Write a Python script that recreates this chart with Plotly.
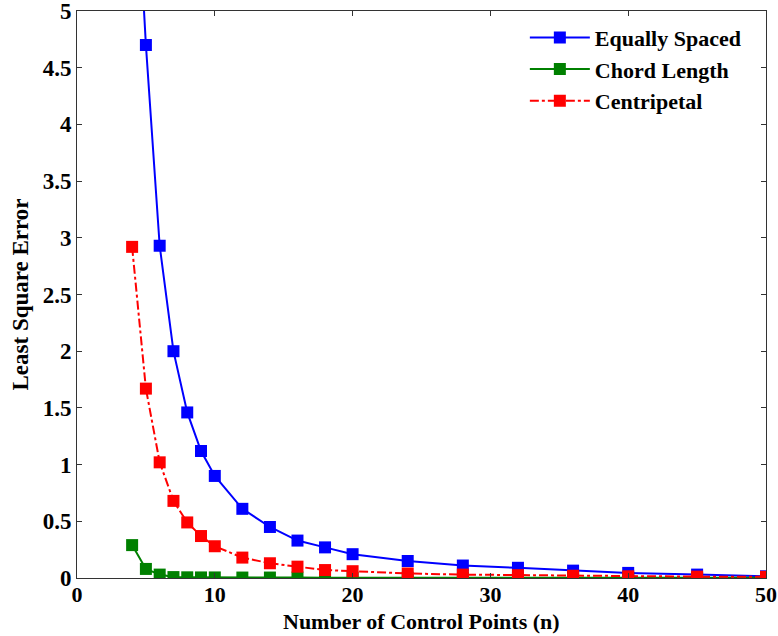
import plotly.graph_objects as go

n_points = [4, 5, 6, 7, 8, 9, 10, 12, 14, 16, 18, 20, 24, 28, 32, 36, 40, 45, 50]
equally_spaced = [6.9, 4.70, 2.93, 2.00, 1.46, 1.12, 0.90, 0.61, 0.45, 0.33, 0.27, 0.21, 0.15, 0.11, 0.09, 0.065, 0.045, 0.03, 0.015]
chord_length = [0.29, 0.08, 0.03, 0.008, 0.006, 0.005, 0.005, 0.004, 0.004, 0.004, 0.003, 0.003, 0.003, 0.003, 0.003, 0.003, 0.002, 0.002, 0.002]
centripetal = [2.92, 1.67, 1.02, 0.68, 0.49, 0.37, 0.28, 0.18, 0.13, 0.10, 0.07, 0.06, 0.04, 0.03, 0.025, 0.02, 0.015, 0.012, 0.01]

x_ticks = [0, 10, 20, 30, 40, 50]
x_tick_labels = ["0", "10", "20", "30", "40", "50"]
y_ticks = [0, 0.5, 1, 1.5, 2, 2.5, 3, 3.5, 4, 4.5, 5]
y_tick_labels = ["0", "0.5", "1", "1.5", "2", "2.5", "3", "3.5", "4", "4.5", "5"]
x_title = "Number of Control Points (n)"
y_title = "Least Square Error"

FF = "Liberation Serif"

fig = go.Figure()
fig.add_trace(go.Scatter(x=n_points, y=equally_spaced, mode="lines+markers",
                         name="Equally Spaced",
                         line=dict(color="#0000ff", width=2),
                         marker=dict(symbol="square", size=12, color="#0000ff")))
fig.add_trace(go.Scatter(x=n_points, y=chord_length, mode="lines+markers",
                         name="Chord Length",
                         line=dict(color="#008000", width=2),
                         marker=dict(symbol="square", size=12, color="#008000")))
fig.add_trace(go.Scatter(x=n_points, y=centripetal, mode="lines+markers",
                         name="Centripetal",
                         line=dict(color="#ff0000", width=2, dash="dashdot"),
                         marker=dict(symbol="square", size=12, color="#ff0000")))

fig.update_layout(
    width=778, height=636,
    margin=dict(l=77, r=12, t=11, b=58, autoexpand=False),
    paper_bgcolor="white", plot_bgcolor="white",
    font=dict(family=FF, size=22, color="black", weight="bold"),
    legend=dict(x=0.65, y=0.99, xanchor="left", yanchor="top",
                bgcolor="rgba(255,255,255,0)", borderwidth=0,
                font=dict(family=FF, size=22, color="black", weight="bold"),
                tracegroupgap=0, itemwidth=60),
    showlegend=True,
    annotations=[
        dict(text=x_title, xref="paper", yref="paper", x=0.5, y=-0.076,
             xanchor="center", yanchor="middle", showarrow=False,
             font=dict(family=FF, size=22, color="black", weight="bold")),
        dict(text=y_title, xref="paper", yref="paper", x=-0.0827, y=0.5,
             xanchor="center", yanchor="middle", showarrow=False, textangle=-90,
             font=dict(family=FF, size=23, color="black", weight="bold")),
    ],
)
fig.update_xaxes(range=[0, 50], tickmode="array", tickvals=x_ticks, ticktext=x_tick_labels,
                 showgrid=False, zeroline=False, showline=True, mirror="allticks",
                 linecolor="#333333", linewidth=1, ticks="inside", ticklen=5, tickcolor="#333333",
                 tickfont=dict(family=FF, size=22, color="black", weight="bold"),
                 automargin=False, ticklabeloverflow="allow", ticklabelstandoff=-3)
fig.update_yaxes(range=[0, 5], tickmode="array", tickvals=y_ticks, ticktext=y_tick_labels,
                 showgrid=False, zeroline=False, showline=True, mirror="allticks",
                 linecolor="#333333", linewidth=1, ticks="inside", ticklen=5, tickcolor="#333333",
                 tickfont=dict(family=FF, size=23, color="black", weight="bold"),
                 automargin=False, ticklabeloverflow="allow")

fig.write_html("out.html")
